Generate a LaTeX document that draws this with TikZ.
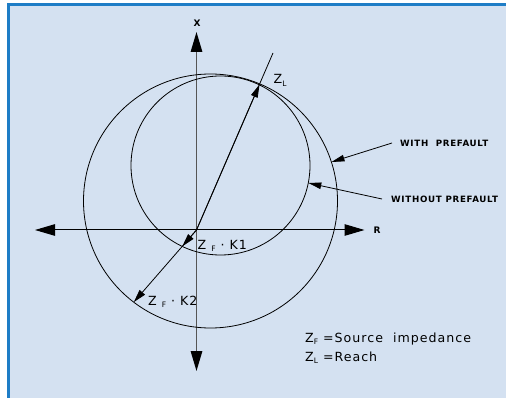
\documentclass[tikz,border=0pt]{standalone}
\usepackage{fontspec}
\setmainfont[LetterSpace=8]{DejaVu Sans}
\usetikzlibrary{arrows.meta}
\definecolor{bgblue}{HTML}{D4E1F1}
\definecolor{frameblue}{HTML}{1E7DC6}
\definecolor{axisgray}{HTML}{555555}
\newcommand\lowsub[1]{\raisebox{-0.3ex}{\fontsize{7.5}{7.5}\selectfont #1}}
\begin{document}
\begin{tikzpicture}[x=1pt,y=-1pt,
  axisline/.style={line width=1pt,
    arrows={Triangle[length=20pt,width=11.5pt,color=black]-Triangle[length=20pt,width=11.5pt,color=black]}},
  ptr/.style={line width=0.8pt,-{Triangle[length=13pt,width=7pt]}},
  leader/.style={line width=0.8pt,-{Triangle[length=13pt,width=6.5pt]}},
  curve/.style={draw,circle,inner sep=0pt,line width=0.8pt},
  lbl/.style={inner sep=0pt,font=\fontsize{12.6}{14}\selectfont},
  capslbl/.style={inner ysep=0pt,font=\fontsize{8.7}{10}\selectfont\bfseries},
  axlbl/.style={inner sep=0pt,font=\fontsize{9}{10}\selectfont\bfseries}]
\useasboundingbox (0,0) rectangle (506,398);
\fill[white] (0,0) rectangle (506,398);
\fill[bgblue] (8.7,4.7) rectangle (506,398);
\draw[frameblue,line width=2.7pt] (8.7,398) -- (8.7,4.7) -- (506,4.7);

% axes
\coordinate (O) at (196.5,230);
\coordinate (xtop) at (196.5,32);
\coordinate (xbot) at (196.5,371);
\coordinate (rleft) at (35,230);
\coordinate (rright) at (364.5,230);
\draw[axisline,draw=axisgray,line width=1.4pt] (xbot) -- (xtop);
\draw[axisline] (rleft) -- (rright);
\node[axlbl] (xlab) at (197,23) {X};
\node[axlbl] (rlab) at (377,230) {R};

% characteristic circles
\node[curve,minimum size=254pt] (withpf) at (210.5,201) {};
\node[curve,minimum size=179pt] (withoutpf) at (220.5,165.5) {};

% impedance vectors
\coordinate (ZL) at (259.5,84.5);
\coordinate (ZLend) at (273,53);
\coordinate (K1) at (182.3,246.3);
\coordinate (K2) at (133.8,302.1);
\draw[line width=0.8pt] (O) -- (ZLend);
\draw[ptr] (O) -- (ZL);
\draw[ptr] (O) -- (K2);
\draw[ptr] (O) -- (K1);

\node[lbl,anchor=base west] (zllab) at (273.5,84) {Z\lowsub{L}};
\node[lbl,anchor=base west] (k1lab) at (197.5,249.5) {Z~\lowsub{F}~·~K1};
\node[lbl,anchor=base west] (k2lab) at (148,305) {Z~\lowsub{F}~·~K2};

% leaders
\node[capslbl,inner xsep=8pt,anchor=west] (wpf) at (392,143) {WITH\ \ PREFAULT};
\node[capslbl,inner xsep=9pt,anchor=west] (wopf) at (382,199) {WITHOUT\ PREFAULT};
\coordinate (wpftip) at (331.5,162);
\coordinate (wopftip) at (308.3,183);
\draw[leader] (wpf.west) -- (wpftip);
\draw[leader] (wopf.west) -- (wopftip);

% legend
\node[lbl,anchor=base west] (leg1) at (305,342) {Z\lowsub{F} =Source\ \ impedance};
\node[lbl,anchor=base west] (leg2) at (305,361.3) {Z\lowsub{L} =Reach};
\end{tikzpicture}
\end{document}
